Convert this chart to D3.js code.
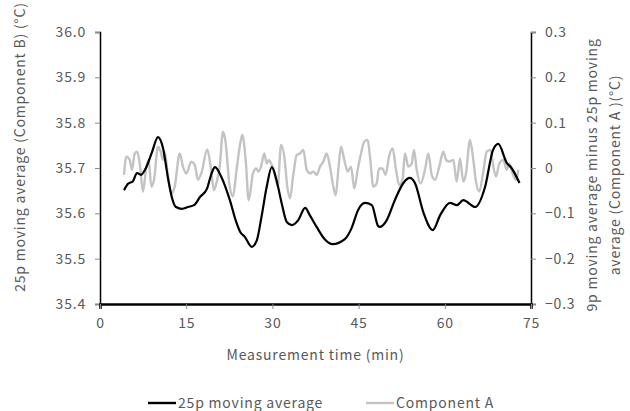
<!DOCTYPE html>
<html>
<head>
<meta charset="utf-8">
<script src="https://cdn.jsdelivr.net/npm/d3@7"></script>
<style>
  body { margin: 0; background: #fff; }
  #chart-area text { font-family: "Noto Sans CJK JP", "Noto Sans", sans-serif; fill: #595959; letter-spacing: 0.8px; }
</style>
</head>
<body>
<div id="chart-area"></div>
<script>

// 25p moving average (Component B), left axis
var timeB = [4.18, 4.87, 5.74, 6.44, 7.13, 8.0, 9.05, 10.09, 10.96, 11.83, 12.53, 13.22, 14.27, 15.31, 16.36,
    17.4, 18.6, 19.5, 20.0, 21.2, 22.6, 23.7, 24.4, 25.2, 26.4, 27.3, 28.1, 29.0, 29.9, 30.7, 31.6, 32.5, 33.4,
    34.5, 35.7, 36.5, 37.7, 39.1, 40.5, 42.6, 43.8, 44.9, 46.1, 47.3, 48.4, 48.7, 49.9, 51.3, 52.8, 53.9, 54.8,
    56.3, 57.9, 59.2, 60.9, 62.1, 63.2, 65.3, 67.0, 68.4, 69.3, 70.8, 71.6, 73.0];
var valueB = [35.651, 35.665, 35.671, 35.689, 35.685, 35.700, 35.735, 35.768, 35.744, 35.678, 35.634, 35.614,
    35.610, 35.614, 35.618, 35.636, 35.654, 35.691, 35.702, 35.678, 35.629, 35.581, 35.559, 35.548, 35.526,
    35.541, 35.592, 35.658, 35.702, 35.674, 35.623, 35.581, 35.574, 35.585, 35.612, 35.596, 35.570, 35.543,
    35.532, 35.543, 35.568, 35.607, 35.623, 35.618, 35.572, 35.570, 35.585, 35.629, 35.667, 35.678, 35.667,
    35.601, 35.563, 35.596, 35.623, 35.618, 35.629, 35.614, 35.658, 35.740, 35.753, 35.711, 35.700, 35.667];

// Component A (9p minus 25p moving average), right axis
var timeA = [4.18, 4.58, 5.17, 5.57, 6.04, 6.49, 6.91, 7.48, 8.06, 8.47, 8.93, 9.40, 10.09, 10.56, 10.96, 11.26,
    11.83, 12.41, 13.0, 13.87, 14.44, 15.02, 15.89, 16.48, 17.05, 17.63, 18.67, 19.26, 19.84, 20.24, 20.83, 21.40,
    21.80, 22.57, 23.14, 23.72, 24.31, 24.76, 25.35, 25.88, 26.62, 27.20, 27.55, 28.02, 28.59, 29.01, 29.41,
    29.76, 30.16, 30.45, 30.92, 31.50, 32.07, 32.59, 33.06, 33.64, 34.23, 34.80, 35.38, 35.97, 36.54, 37.12,
    37.71, 38.28, 38.86, 39.45, 40.02, 40.60, 41.02, 41.47, 41.94, 42.51, 43.10, 43.68, 44.25, 44.84, 45.42,
    45.99, 46.58, 46.98, 47.56, 48.15, 48.55, 49.12, 49.71, 50.29, 50.93, 51.51, 52.08, 52.67, 53.07, 53.65,
    54.24, 54.64, 55.11, 55.81, 56.55, 57.13, 57.72, 58.29, 59.04, 59.74, 60.21, 60.78, 61.48, 62.07, 62.64,
    63.22, 63.69, 64.38, 64.96, 65.43, 66.0, 66.70, 67.29, 67.99, 68.44, 68.91, 69.48, 70.18, 70.77, 71.22,
    71.81, 72.39, 72.79];
var valueA = [-0.015, 0.025, 0.018, -0.004, 0.032, 0.036, 0.010, -0.052, 0.003, 0.018, -0.041, -0.026, 0.047,
    0.036, 0.018, 0.036, -0.019, -0.056, -0.041, 0.032, 0.003, -0.012, 0.014, 0.007, -0.026, -0.012, 0.041,
    0.003, -0.049, -0.034, 0.003, 0.080, 0.062, -0.041, -0.063, -0.008, 0.047, 0.073, 0.018, -0.071, -0.012,
    -0.001, -0.008, 0.003, 0.032, 0.010, 0.018, 0.010, -0.001, -0.015, -0.041, 0.051, 0.025, -0.041, -0.067,
    -0.015, 0.029, 0.032, 0.040, -0.004, -0.012, -0.008, -0.015, 0.003, 0.014, 0.032, 0.003, -0.041, -0.060,
    -0.004, 0.047, 0.018, -0.008, 0.003, -0.045, -0.004, 0.032, 0.058, 0.062, 0.025, -0.041, -0.034, -0.001,
    -0.001, -0.015, 0.025, 0.043, -0.004, -0.038, -0.023, 0.032, 0.003, 0.010, 0.040, -0.004, -0.034, -0.004,
    0.032, -0.015, -0.026, 0.003, 0.036, 0.018, 0.014, 0.018, -0.030, 0.021, -0.030, -0.012, 0.062, 0.018,
    -0.030, -0.052, -0.008, 0.036, 0.040, 0.003, -0.019, 0.010, 0.018, -0.004, 0.010, -0.012, -0.026, -0.004];

var xTicks = [0, 15, 30, 45, 60, 75];
var leftTicks = [35.4, 35.5, 35.6, 35.7, 35.8, 35.9, 36.0];
var rightTicks = [-0.3, -0.2, -0.1, 0, 0.1, 0.2, 0.3];

var seriesNames = ["25p moving average", "Component A"];


ChartVis = function(_parentElement) {
    this.parentElement = _parentElement;
    this.initVis();
};

/* INITIALIZE VISUALIZATION */
ChartVis.prototype.initVis = function() {
    var vis = this;

    vis.margin = { top: 32, right: 99, bottom: 107, left: 100 };
    vis.width = 630 - vis.margin.left - vis.margin.right;
    vis.height = 411 - vis.margin.top - vis.margin.bottom;

    vis.svg = d3.select("#" + vis.parentElement).append("svg")
        .attr("width", 630)
        .attr("height", 411)
        .append("g")
        .attr("transform", "translate(" + vis.margin.left + "," + vis.margin.top + ")");

    // Scales
    vis.x = d3.scaleLinear().domain([0, 75]).range([0, vis.width]);
    vis.yLeft = d3.scaleLinear().domain([35.4, 36.0]).range([vis.height, 0]);
    vis.yRight = d3.scaleLinear().domain([-0.3, 0.3]).range([vis.height, 0]);

    vis.xAxis = d3.axisBottom(vis.x).tickValues(xTicks).tickSize(5).tickPadding(9)
        .tickFormat(d3.format("d"));
    vis.leftAxis = d3.axisLeft(vis.yLeft).tickValues(leftTicks).tickSize(5).tickPadding(9)
        .tickFormat(d3.format(".1f"));
    vis.rightAxis = d3.axisRight(vis.yRight).tickValues(rightTicks).tickSize(5).tickPadding(9)
        .tickFormat(function(d) { return d === 0 ? "0" : d3.format(".1f")(d); });

    vis.svg.append("g").attr("class", "axis left-axis");
    vis.svg.append("g").attr("class", "axis right-axis")
        .attr("transform", "translate(" + vis.width + ",0)");
    vis.svg.append("g").attr("class", "axis x-axis")
        .attr("transform", "translate(0," + vis.height + ")");

    // Line generators
    vis.lineA = d3.line()
        .curve(d3.curveMonotoneX)
        .x(function(d) { return vis.x(d.t); })
        .y(function(d) { return vis.yRight(d.v); });

    vis.lineB = d3.line()
        .curve(d3.curveMonotoneX)
        .x(function(d) { return vis.x(d.t); })
        .y(function(d) { return vis.yLeft(d.v); });

    vis.pathA = vis.svg.append("path")
        .attr("fill", "none")
        .attr("stroke", "#c3c3c3")
        .attr("stroke-width", 2.4)
        .attr("stroke-linejoin", "round");

    vis.pathB = vis.svg.append("path")
        .attr("fill", "none")
        .attr("stroke", "#000")
        .attr("stroke-width", 2.2)
        .attr("stroke-linejoin", "round");

    // Axis titles
    vis.svg.append("text")
        .attr("x", vis.width / 2)
        .attr("y", vis.height + 56)
        .attr("text-anchor", "middle")
        .style("font-size", "14px")
        .text("Measurement time (min)");

    vis.svg.append("text")
        .attr("transform", "translate(" + (-75) + "," + (vis.height / 2 - 21) + ") rotate(-90)")
        .attr("text-anchor", "middle")
        .style("font-size", "14px")
        .text("25p moving average (Component B) (°C)");

    var rightTitle = vis.svg.append("text")
        .attr("transform", "translate(" + (vis.width + 66) + "," + (vis.height / 2 + 7) + ") rotate(-90)")
        .attr("text-anchor", "middle")
        .style("font-size", "14px");
    rightTitle.append("tspan").attr("x", 0).attr("dy", 0)
        .text("9p moving average minus 25p moving");
    rightTitle.append("tspan").attr("x", 0).attr("dy", 23)
        .text("average (Component A )(°C)");

    // Legend
    vis.legend = vis.svg.append("g")
        .attr("transform", "translate(0," + (vis.height + 99) + ")");

    vis.wrangleData();
};

ChartVis.prototype.wrangleData = function() {
    var vis = this;

    vis.dataA = timeA.map(function(t, i) { return { t: t, v: valueA[i] }; });
    vis.dataB = timeB.map(function(t, i) { return { t: t, v: valueB[i] }; });

    vis.updateVis();
};

ChartVis.prototype.updateVis = function() {
    var vis = this;

    vis.pathA.datum(vis.dataA).attr("d", vis.lineA);
    vis.pathB.datum(vis.dataB).attr("d", vis.lineB);

    vis.svg.select(".left-axis").call(vis.leftAxis);
    vis.svg.select(".right-axis").call(vis.rightAxis);
    vis.svg.select(".x-axis").call(vis.xAxis);

    vis.svg.selectAll(".axis text").style("font-size", "14px");
    vis.svg.selectAll(".axis .tick line").attr("stroke", "#8c8c8c");
    vis.svg.selectAll(".axis .domain").attr("stroke", "#000").attr("stroke-width", 1.5);
    vis.svg.select(".x-axis .domain").attr("stroke-width", 2.5);

    // Legend entries
    var entries = [
        { name: seriesNames[0], color: "#000", x: 48 },
        { name: seriesNames[1], color: "#c3c3c3", x: 266 }
    ];
    var item = vis.legend.selectAll(".legend-item")
        .data(entries)
        .enter().append("g")
        .attr("class", "legend-item")
        .attr("transform", function(d) { return "translate(" + d.x + ",0)"; });

    item.append("line")
        .attr("x1", 0).attr("x2", 28)
        .attr("y1", 0).attr("y2", 0)
        .attr("stroke", function(d) { return d.color; })
        .attr("stroke-width", 2.4);

    item.append("text")
        .attr("x", 30)
        .attr("y", 5)
        .style("font-size", "14px")
        .text(function(d) { return d.name; });
};

new ChartVis("chart-area");
</script>
</body>
</html>
